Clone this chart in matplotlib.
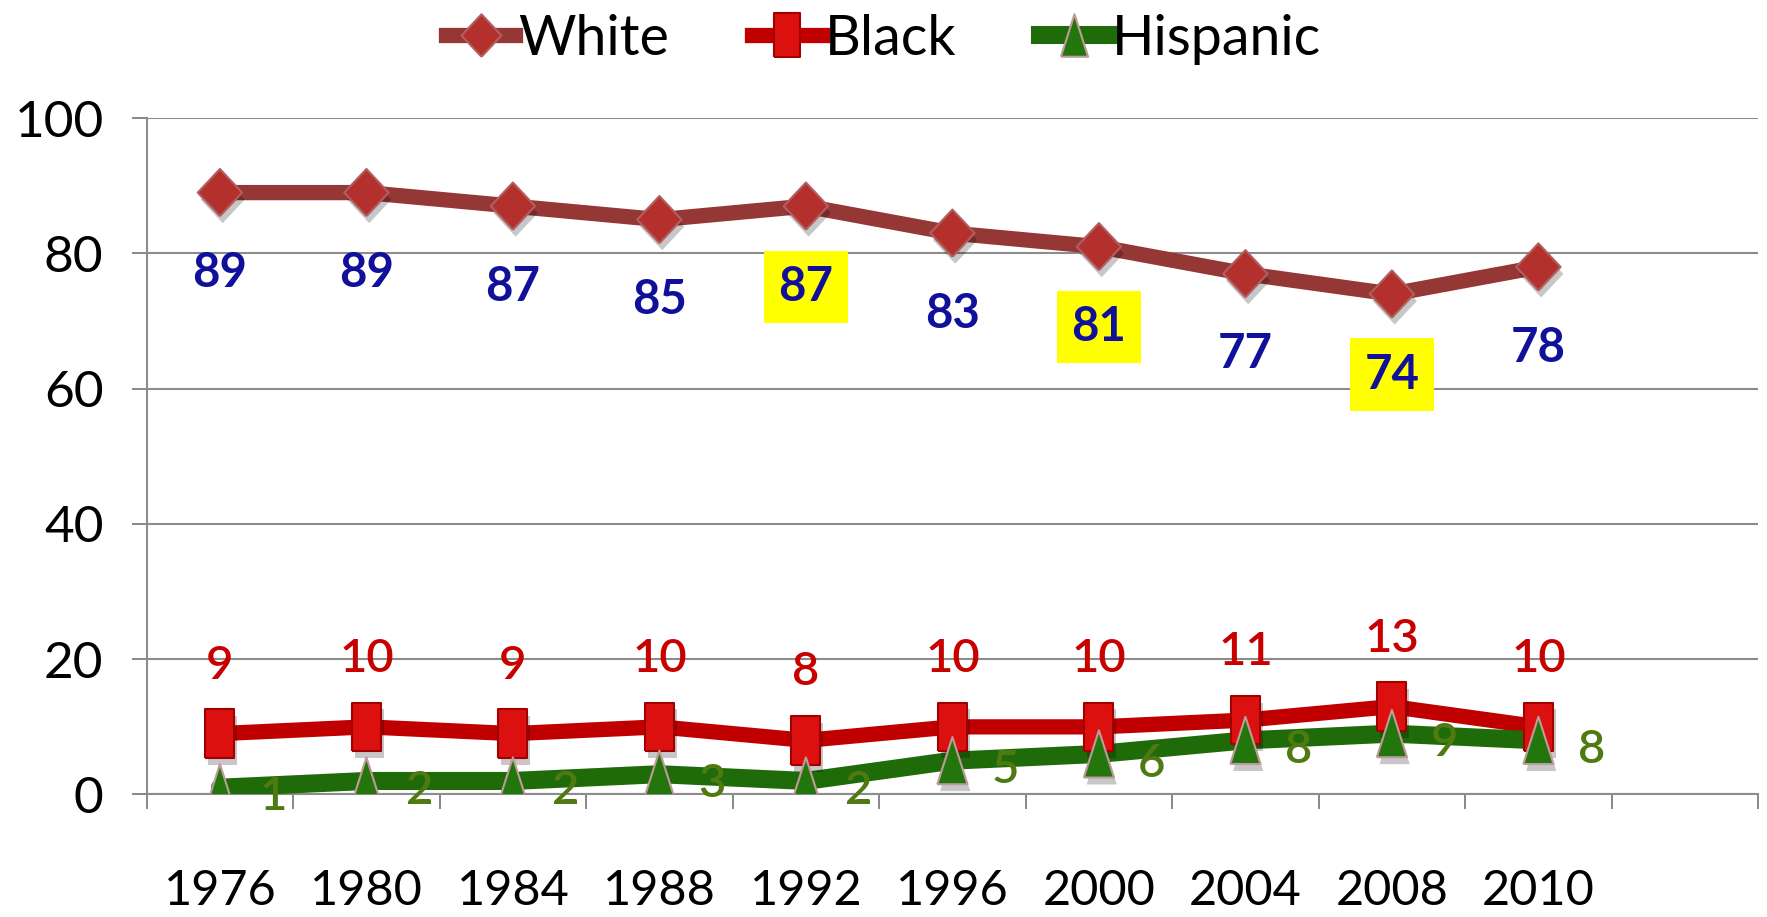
import matplotlib
matplotlib.use('Agg')
import matplotlib.pyplot as plt
import matplotlib.patheffects as pe
from matplotlib.path import Path
import numpy as np

plt.rcParams['font.family'] = ['Lato', 'DejaVu Sans']

years = ['1976', '1980', '1984', '1988', '1992', '1996', '2000', '2004', '2008', '2010']
white = [89, 89, 87, 85, 87, 83, 81, 77, 74, 78]
black = [9, 10, 9, 10, 8, 10, 10, 11, 13, 10]
hispanic = [1, 2, 2, 3, 2, 5, 6, 8, 9, 8]
highlight = ['1992', '2000', '2008']   # yellow boxes on White labels
yticks = [0, 20, 40, 60, 80, 100]

# custom marker shapes (tall, like the stretched Excel original)
diamond = Path([(0, -0.5), (0.47, 0), (0, 0.5), (-0.47, 0), (0, -0.5)])
rect = Path([(-0.3, -0.5), (0.3, -0.5), (0.3, 0.5), (-0.3, 0.5), (-0.3, -0.5)])
tri = Path([(-0.32, -0.5), (0.32, -0.5), (0, 0.5), (-0.32, -0.5)])

shadow = [pe.SimplePatchShadow(offset=(2, -5), shadow_rgbFace='k', alpha=0.22), pe.Normal()]

fig = plt.figure(figsize=(17.67, 9.17), dpi=100)
ax = fig.add_axes([0.083, 0.1336, 0.912, 0.7375])

x = np.arange(len(years))

series = [
    ('White', white, '#953735', '#b3302c', diamond, 34, '#b06060', 11),
    ('Black', black, '#c00000', '#dd1010', rect, 35, '#a00000', 11),
    ('Hispanic', hispanic, '#1f6b0a', '#23760c', tri, 34, '#c09a9a', 13),
]

handles = []
for name, vals, lc, mc, mk, ms, ec, lw in series:
    ax.plot(x, vals, color=lc, lw=lw, solid_capstyle='round',
            solid_joinstyle='round', zorder=3)
    ax.plot(x, vals, ls='none', marker=mk, ms=ms, mfc=mc, mec=ec, mew=1.5,
            zorder=4, path_effects=shadow)
    h, = ax.plot([], [], color=lc, lw=lw, marker=mk, ms=ms * 0.9,
                 mfc=mc, mec=ec, mew=1.5)
    handles.append(h)

# data labels
for i, v in enumerate(white):
    kw = {}
    if years[i] in highlight:
        kw['bbox'] = dict(boxstyle='square,pad=0.3', fc='#ffff00', ec='none')
    ax.annotate(str(v), (x[i], v), xytext=(0, -58), textcoords='offset points',
                ha='center', va='center', fontsize=34, fontweight='bold',
                color='#10109a', zorder=5, **kw)
for i, v in enumerate(black):
    ax.annotate(str(v), (x[i], v), xytext=(0, 49), textcoords='offset points',
                ha='center', va='center', fontsize=34, fontweight='semibold',
                color='#c80000', zorder=5)
for i, v in enumerate(hispanic):
    ax.annotate(str(v), (x[i], v), xytext=(38, -7), textcoords='offset points',
                ha='center', va='center', fontsize=34, fontweight='semibold',
                color='#4f7a12', zorder=5)

ax.set_xlim(-0.5, 10.5)
ax.set_ylim(0, 100)
ax.set_yticks(yticks)
ax.set_xticks(x)
ax.set_xticklabels(years)
ax.set_xticks(np.arange(-0.5, 11, 1), minor=True)
ax.tick_params(axis='x', which='major', length=0, pad=54, labelsize=35)
ax.tick_params(axis='x', which='minor', length=11, width=1.4, color='#888888')
ax.tick_params(axis='y', length=11, width=1.4, color='#888888', pad=20, labelsize=37)

ax.grid(axis='y', color='#8c8c8c', lw=1.5, zorder=0)
for s in ['top', 'right']:
    ax.spines[s].set_visible(False)
ax.spines['left'].set_color('#8c8c8c')
ax.spines['left'].set_linewidth(1.5)
ax.spines['bottom'].set_color('#8c8c8c')
ax.spines['bottom'].set_linewidth(1.5)

fig.legend(handles, [s[0] for s in series], loc='center', bbox_to_anchor=(0.5, 0.957),
           ncol=3, frameon=False, fontsize=40, handlelength=1.25, handletextpad=0.05,
           columnspacing=1.5)

fig.savefig('out.png', dpi=100, facecolor='white')
